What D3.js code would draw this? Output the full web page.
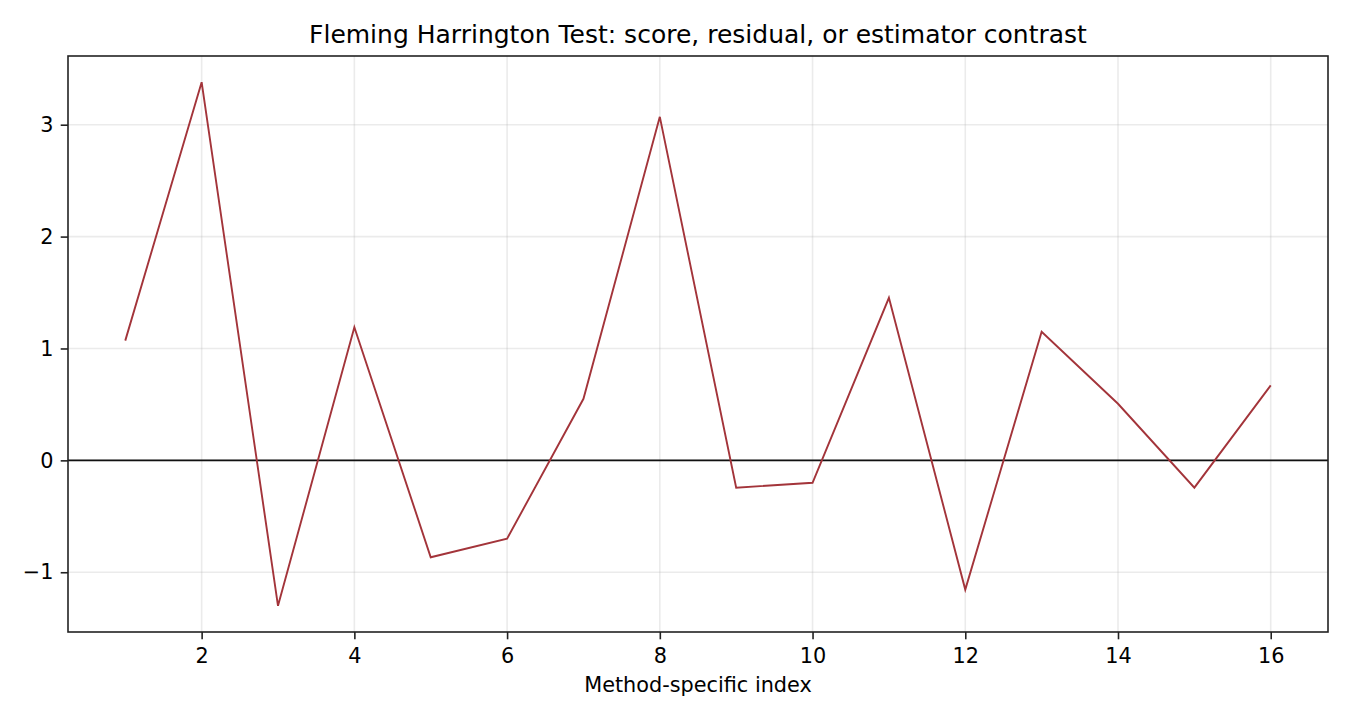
<!DOCTYPE html>
<html>
<head>
<meta charset="utf-8">
<script src="https://cdn.jsdelivr.net/npm/d3@7"></script>
<style>
	html, body { margin: 0; padding: 0; background: white; }
	svg text { font-family: 'DejaVu Sans', sans-serif; fill: #000; }
</style>
</head>
<body>
<div id="outer"></div>
<script>
////////// DATA //////////
const indices = [1, 2, 3, 4, 5, 6, 7, 8, 9, 10, 11, 12, 13, 14, 15, 16];
const contrastValues = [1.07, 3.38, -1.30, 1.19, -0.866, -0.70, 0.55, 3.07, -0.244, -0.20, 1.453, -1.155, 1.149, 0.506, -0.244, 0.67];
const xTicks = [2, 4, 6, 8, 10, 12, 14, 16];
const yTicks = [-1, 0, 1, 2, 3];

const titleText = 'Fleming Harrington Test: score, residual, or estimator contrast';
const xLabelText = 'Method-specific index';

////////// SIZING //////////
const width = 1350;
const height = 720;
const margin = {top: 56, left: 68, right: 22, bottom: 88};
const plotW = width - margin.left - margin.right;
const plotH = height - margin.top - margin.bottom;

// matplotlib-style 5% padding on both axes
const pad = (lo, hi) => { const d = (hi - lo) * 0.05; return [lo - d, hi + d]; };
const xDom = pad(d3.min(indices), d3.max(indices));
const yDom = pad(d3.min(contrastValues), d3.max(contrastValues));

const x = d3.scaleLinear().domain(xDom).range([0, plotW]);
const y = d3.scaleLinear().domain(yDom).range([plotH, 0]);

////////// RENDER //////////
const svg = d3.select('#outer').append('svg')
	.attr('width', width)
	.attr('height', height);

svg.append('rect').attr('width', width).attr('height', height).attr('fill', 'white');

const g = svg.append('g').attr('transform', `translate(${margin.left},${margin.top})`);

// grid
g.append('g').selectAll('line').data(xTicks).join('line')
	.attr('x1', d => x(d)).attr('x2', d => x(d))
	.attr('y1', 0).attr('y2', plotH)
	.attr('stroke', '#b0b0b0').attr('stroke-opacity', 0.25).attr('stroke-width', 1.6);
g.append('g').selectAll('line').data(yTicks).join('line')
	.attr('x1', 0).attr('x2', plotW)
	.attr('y1', d => y(d)).attr('y2', d => y(d))
	.attr('stroke', '#b0b0b0').attr('stroke-opacity', 0.25).attr('stroke-width', 1.6);

// zero line
g.append('line')
	.attr('x1', 0).attr('x2', plotW)
	.attr('y1', y(0)).attr('y2', y(0))
	.attr('stroke', '#111').attr('stroke-width', 1.6);

// series
const line = d3.line().x(d => x(d[0])).y(d => y(d[1]));
g.append('path')
	.datum(indices.map((d, i) => [d, contrastValues[i]]))
	.attr('d', line)
	.attr('fill', 'none')
	.attr('stroke', '#a3343a')
	.attr('stroke-width', 1.9)
	.attr('stroke-linejoin', 'miter');

// axes
const fmt = d => d < 0 ? '\u2212' + Math.abs(d) : String(d);
const xAxis = g.append('g')
	.attr('transform', `translate(0,${plotH})`)
	.call(d3.axisBottom(x).tickValues(xTicks).tickSize(7.3).tickPadding(7.3).tickFormat(fmt));
const yAxis = g.append('g')
	.call(d3.axisLeft(y).tickValues(yTicks).tickSize(7.3).tickPadding(7.3).tickFormat(fmt));

[xAxis, yAxis].forEach(a => {
	a.select('.domain').remove();
	a.selectAll('line').attr('stroke', '#222').attr('stroke-width', 1.6);
	a.selectAll('text').style('font-size', '20.8px').attr('fill', '#000');
});
xAxis.selectAll('text').attr('dy', '0.78em');

// frame
g.append('rect')
	.attr('width', plotW).attr('height', plotH)
	.attr('fill', 'none').attr('stroke', '#222').attr('stroke-width', 1.6);

// title & label
svg.append('text')
	.attr('x', margin.left + plotW / 2).attr('y', 43)
	.attr('text-anchor', 'middle')
	.style('font-size', '25px')
	.text(titleText);

svg.append('text')
	.attr('x', margin.left + plotW / 2).attr('y', 692)
	.attr('text-anchor', 'middle')
	.style('font-size', '20.8px')
	.text(xLabelText);
</script>
</body>
</html>
